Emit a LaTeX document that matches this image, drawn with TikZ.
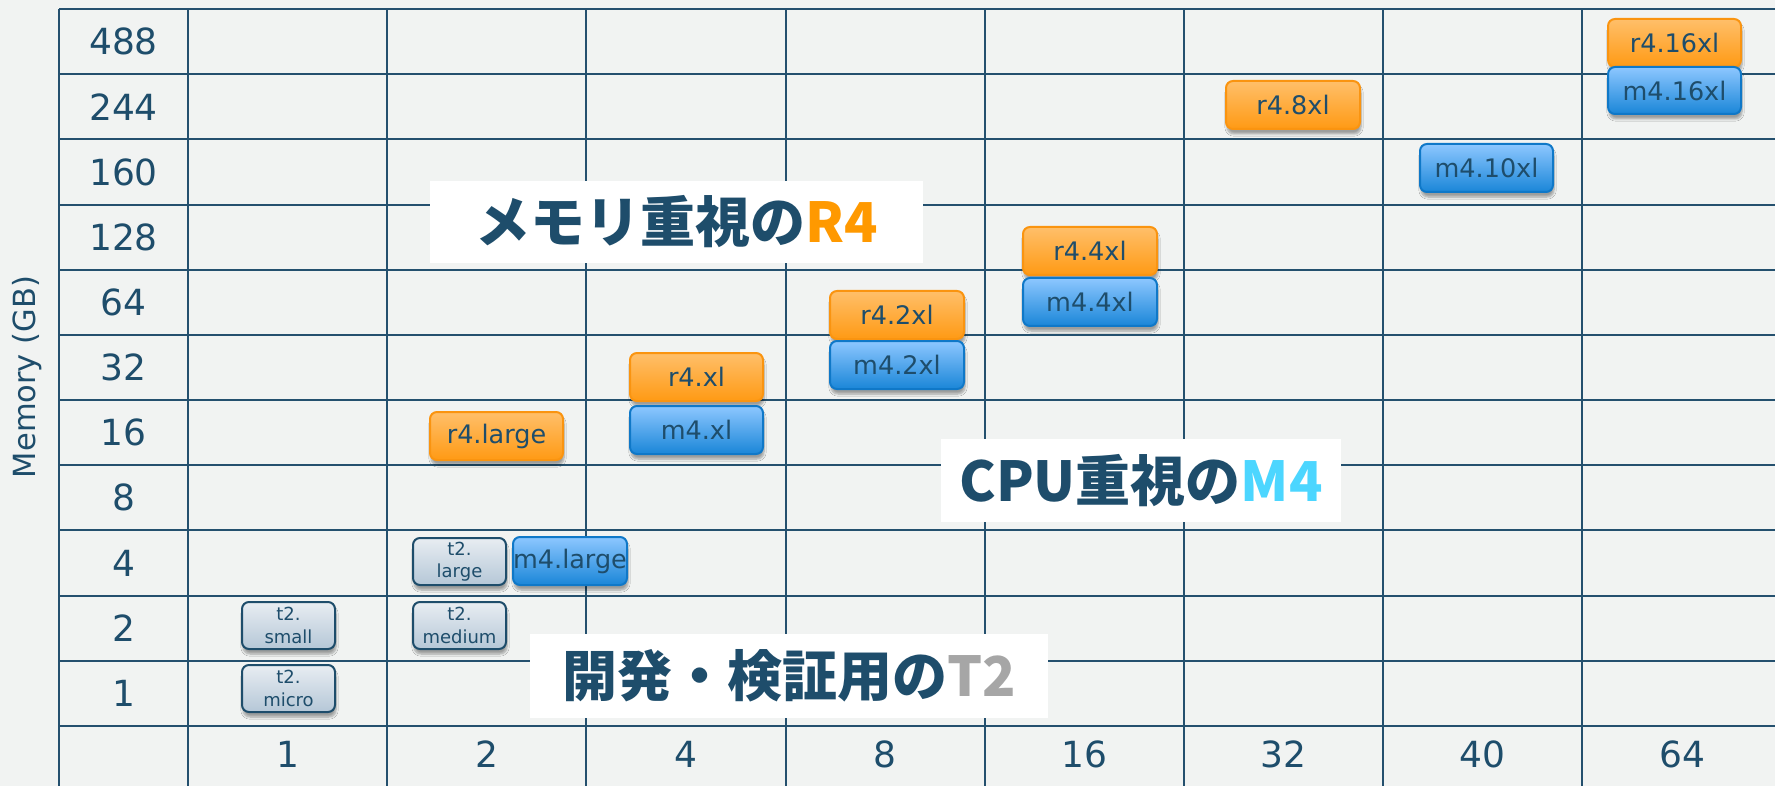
\documentclass[tikz,border=0pt]{standalone}
\usepackage{fontspec}
\setmainfont{DejaVu Sans}
\newfontfamily\jpfont{Noto Sans CJK JP}
\usetikzlibrary{shadows.blur}
\definecolor{bgc}{HTML}{F1F3F2}
\definecolor{gridc}{HTML}{24506E}
\definecolor{txtc}{HTML}{1E4D6B}
\definecolor{orTop}{HTML}{FFBF6A}
\definecolor{orBot}{HTML}{FF9A14}
\definecolor{orLine}{HTML}{FA9410}
\definecolor{blTop}{HTML}{8DC7FF}
\definecolor{blBot}{HTML}{1A86D8}
\definecolor{blLine}{HTML}{0F78C8}
\definecolor{gyTop}{HTML}{E8EDF2}
\definecolor{gyBot}{HTML}{B5C7D7}
\definecolor{rfour}{HTML}{FF9900}
\definecolor{mfour}{HTML}{4CD6FF}
\definecolor{ttwo}{HTML}{A6A6A6}
\tikzset{
  gridline/.style={draw=gridc, line width=2pt},
  axlab/.style={text=txtc, font=\fontsize{36}{40}\selectfont, inner sep=0pt},
  inst/.style={rounded corners=7pt, line width=2pt, inner sep=0pt,
     minimum height=48pt, text=txtc, font=\fontsize{25.5}{28}\selectfont,
     blur shadow={shadow xshift=1pt, shadow yshift=-5pt, shadow blur steps=6, shadow opacity=35}},
  rbox/.style={inst, draw=orLine, top color=orTop, bottom color=orBot, minimum width=134pt},
  mbox/.style={inst, draw=blLine, top color=blTop, bottom color=blBot, minimum width=134pt},
  tbox/.style={inst, draw=txtc, top color=gyTop, bottom color=gyBot, minimum width=93pt,
     minimum height=47pt, align=center, font=\fontsize{18}{22.5}\selectfont},
  title/.style={fill=white, inner sep=0pt, text=txtc,
     font=\jpfont\bfseries\fontsize{55}{60}\selectfont}
}
\begin{document}
\begin{tikzpicture}[x=1pt,y=-1pt]
\fill[bgc] (0,0) rectangle (1775,786);
\useasboundingbox (0,0) rectangle (1775,786);
% grid
\foreach \k in {0,...,11} \draw[gridline] (59,{9+65.18*\k}) -- (1775,{9+65.18*\k});
\draw[gridline] (59,9) -- (59,786);
\foreach \k in {0,...,7} \draw[gridline] ({188+199.2*\k},9) -- ({188+199.2*\k},786);
% axis labels
\foreach \t [count=\i] in {488,244,160,128,64,32,16,8,4,2,1}
  \node[axlab] (ylab\i) at (123.5,{9+65.18*(\i-0.5)}) {\t};
\foreach \t [count=\i] in {1,2,4,8,16,32,40,64}
  \node[axlab] (xlab\i) at ({188+199.2*(\i-0.5)},754) {\t};
\node[axlab, font=\fontsize{30.5}{34}\selectfont, rotate=90] (ytitle) at (27,377) {Memory (GB)};
% titles
\node[title, minimum width=493pt, minimum height=82pt] (ttlR) at (676.5,222) {メモリ重視の\textcolor{rfour}{R4}};
\node[title, minimum width=400pt, minimum height=83pt] (ttlM) at (1141,480.5) {CPU重視の\textcolor{mfour}{M4}};
\node[title, minimum width=518pt, minimum height=84pt] (ttlT) at (789,676) {開発・検証用の\textcolor{ttwo}{T2}};
% instances
\node[rbox, minimum width=133pt] (r4large) at (496.5,436) {r4.large};
\node[rbox, minimum width=133pt] (r4xl) at (696.5,377) {r4.xl};
\node[mbox, minimum width=133pt] (m4xl) at (696.5,430) {m4.xl};
\node[rbox] (r42xl) at (897,315) {r4.2xl};
\node[mbox] (m42xl) at (897,365) {m4.2xl};
\node[rbox] (r44xl) at (1090,251) {r4.4xl};
\node[mbox] (m44xl) at (1090,302) {m4.4xl};
\node[rbox] (r48xl) at (1293,105) {r4.8xl};
\node[mbox, minimum width=133pt] (m410xl) at (1486.5,168) {m4.10xl};
\node[rbox, minimum width=133pt] (r416xl) at (1674.5,43) {r4.16xl};
\node[mbox, minimum width=133pt, minimum height=47pt] (m416xl) at (1674.5,90.5) {m4.16xl};
\node[tbox] (t2large) at (459.5,561.5) {t2.\\large};
\node[mbox, minimum width=114pt] (m4large) at (570,561) {m4.large};
\node[tbox] (t2medium) at (459.5,625.5) {t2.\\medium};
\node[tbox] (t2small) at (288.5,625.5) {t2.\\small};
\node[tbox] (t2micro) at (288.5,688.5) {t2.\\micro};
\end{tikzpicture}
\end{document}
